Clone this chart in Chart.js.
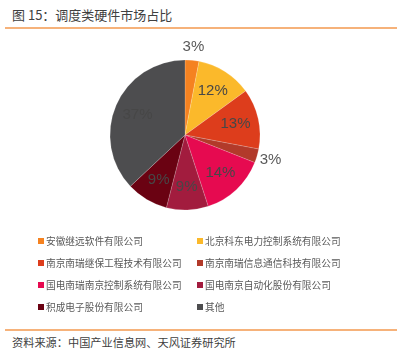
<!DOCTYPE html>
<html>
<head>
<meta charset="utf-8">
<script src="https://cdn.jsdelivr.net/npm/chart.js@4.4.1/dist/chart.umd.min.js"></script>
<style>
  body { margin: 0; width: 401px; height: 352px; background: #fff; position: relative; overflow: hidden;
         font-family: "Noto Sans CJK SC", "Liberation Sans", sans-serif; }
  .title { position: absolute; left: 12px; top: 5px; font-size: 13px; color: #404040; }
  .rule { position: absolute; left: 5px; right: 4px; height: 2px; background: #F6B27A; }
  .src { position: absolute; left: 12px; top: 334px; font-size: 11.2px; color: #404040; }
  #wrap { position: absolute; left: 0; top: 35px; width: 401px; height: 200px; }
  #legend { position: absolute; left: 38px; top: 234px; width: 360px; }
  .item { position: absolute; font-size: 9.7px; color: #595959; white-space: nowrap; line-height: 14px; }
  .item i { display: inline-block; width: 6px; height: 6px; margin-right: 2px; vertical-align: 1px; }
</style>
</head>
<body>
<div class="title">图 15：调度类硬件市场占比</div>
<div class="rule" style="top:27px"></div>
<div id="wrap"><canvas id="pie"></canvas></div>
<div id="legend"></div>
<div class="rule" style="top:329px"></div>
<div class="src">资料来源：中国产业信息网、天风证券研究所</div>
<script>
const companies = [
  "安徽继远软件有限公司",
  "北京科东电力控制系统有限公司",
  "南京南瑞继保工程技术有限公司",
  "南京南瑞信息通信科技有限公司",
  "国电南瑞南京控制系统有限公司",
  "国电南京自动化股份有限公司",
  "积成电子股份有限公司",
  "其他"
];
const shares = [3, 12, 13, 3, 14, 9, 9, 37];
const sliceColors = ["#F58220", "#FBB92B", "#DD3D1C", "#B23A2A", "#E60A50", "#A21C3E", "#6A0212", "#4D4D4F"];
// which labels sit outside the pie
const outside = [true, false, false, true, false, false, false, false];

// legend, two columns
const legend = document.getElementById("legend");
companies.forEach((name, i) => {
  const d = document.createElement("div");
  d.className = "item";
  d.style.left = (i % 2 ? 159 : 0) + "px";
  d.style.top = (Math.floor(i / 2) * 22) + "px";
  d.innerHTML = '<i style="background:' + sliceColors[i] + '"></i>' + name;
  legend.appendChild(d);
});

const pctLabels = {
  id: "pctLabels",
  afterDatasetsDraw(chart) {
    const ctx = chart.ctx;
    const arcs = chart.getDatasetMeta(0).data;
    ctx.save();
    ctx.font = "15px 'Liberation Sans', Arial, sans-serif";
    ctx.textAlign = "center";
    ctx.textBaseline = "middle";
    arcs.forEach((arc, i) => {
      const mid = (arc.startAngle + arc.endAngle) / 2;
      const r = outside[i] ? arc.outerRadius + 14 : arc.outerRadius * 0.69;
      ctx.fillStyle = outside[i] ? "#595959" : "#474747";
      ctx.fillText(shares[i] + "%", arc.x + Math.cos(mid) * r, arc.y + Math.sin(mid) * r);
    });
    ctx.restore();
  }
};

new Chart(document.getElementById("pie").getContext("2d"), {
  type: "pie",
  data: {
    labels: companies,
    datasets: [{
      data: shares,
      backgroundColor: sliceColors,
      borderColor: "rgba(255,255,255,0.35)",
      borderWidth: 0.5
    }]
  },
  options: {
    responsive: true,
    maintainAspectRatio: false,
    animation: false,
    radius: 75,
    layout: { padding: { left: 0, right: 31 } },
    plugins: {
      legend: { display: false },
      tooltip: { enabled: false }
    }
  },
  plugins: [pctLabels]
});
</script>
</body>
</html>
